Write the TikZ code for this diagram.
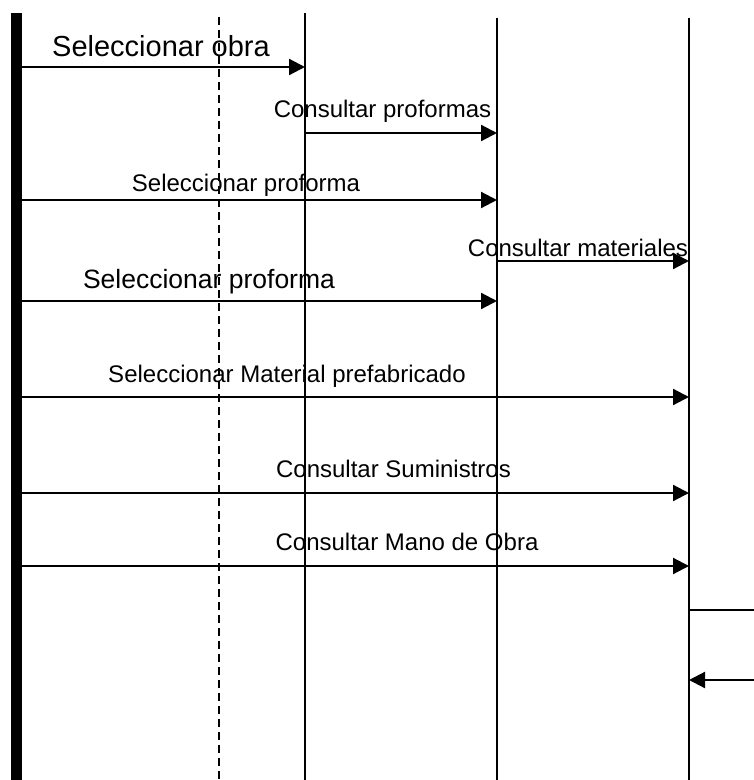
\documentclass[tikz,border=0pt]{standalone}
\usepackage{fontspec}
\setmainfont{Liberation Sans}
\usetikzlibrary{arrows.meta}

\begin{document}
\begin{tikzpicture}[x=1pt,y=-1pt,>={Triangle[length=16pt,width=16pt]}]
  \tikzstyle{life}=[line width=2pt]
  \tikzstyle{msg}=[line width=2.2pt,->]
  \tikzstyle{lbl}=[anchor=base,inner sep=0pt,font=\fontsize{24}{28}\selectfont]
  \tikzstyle{biglbl}=[lbl,font=\fontsize{26.5}{31}\selectfont]

  \useasboundingbox (0,0) rectangle (754,780);

  % lifelines
  \coordinate (actor) at (16,13);
  \coordinate (ctrl) at (219,17);
  \coordinate (obra) at (305,13);
  \coordinate (prof) at (497,18);
  \coordinate (mat) at (689,18);
  \coordinate (bot) at (0,780);
  \coordinate (edge) at (754,0);

  \draw[line width=11pt] (actor) -- (actor |- bot);
  \draw[life,dash pattern=on 8pt off 5pt] (ctrl) -- (ctrl |- bot);
  \draw[life] (obra) -- (obra |- bot);
  \draw[life] (prof) -- (prof |- bot);
  \draw[life] (mat) -- (mat |- bot);

  % message rows
  \coordinate (r1) at (0,67);
  \coordinate (r2) at (0,133);
  \coordinate (r3) at (0,200);
  \coordinate (r4) at (0,261);
  \coordinate (r5) at (0,301);
  \coordinate (r6) at (0,397);
  \coordinate (r7) at (0,493);
  \coordinate (r8) at (0,566);
  \coordinate (r9) at (0,610);
  \coordinate (r10) at (0,680);

  \draw[msg] (actor |- r1) -- (obra |- r1);
  \draw[msg] (obra |- r2) -- (prof |- r2);
  \draw[msg] (actor |- r3) -- (prof |- r3);
  \draw[msg] (prof |- r4) -- (mat |- r4);
  \draw[msg] (actor |- r5) -- (prof |- r5);
  \draw[msg] (actor |- r6) -- (mat |- r6);
  \draw[msg] (actor |- r7) -- (mat |- r7);
  \draw[msg] (actor |- r8) -- (mat |- r8);
  \draw[life] (mat |- r9) -- (edge |- r9);
  \draw[msg] (edge |- r10) -- (mat |- r10);

  % labels
  \node[lbl,font=\fontsize{29}{34}\selectfont] (selobra) at (161,56) {Seleccionar obra};
  \node[lbl] (conprof) at (382.5,117) {Consultar proformas};
  \node[lbl] (selprof) at (246,191) {Seleccionar proforma};
  \node[lbl] (conmat) at (578,256) {Consultar materiales};
  \node[biglbl] (selprofb) at (209,288) {Seleccionar proforma};
  \node[lbl] (selmat) at (287,382) {Seleccionar Material prefabricado};
  \node[lbl] (consum) at (393.5,477) {Consultar Suministros};
  \node[lbl] (conmano) at (407,550) {Consultar Mano de Obra};
\end{tikzpicture}
\end{document}
